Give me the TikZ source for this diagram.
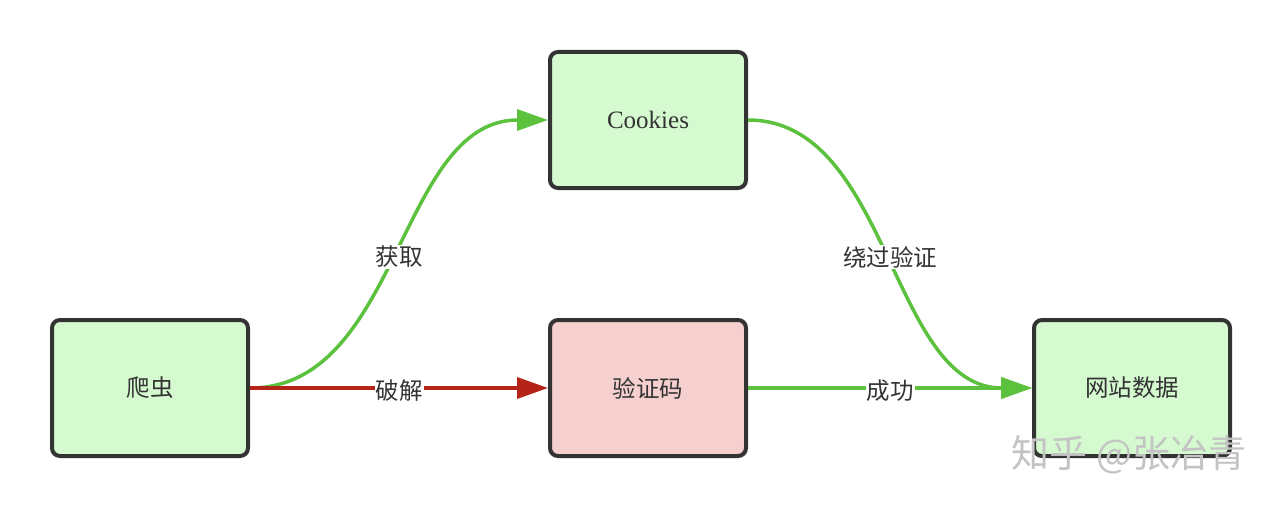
\documentclass[tikz,border=0pt]{standalone}
\usepackage{fontspec}
\setmainfont{Liberation Serif}
\newfontfamily\cjk{Noto Sans CJK SC}
\usetikzlibrary{arrows.meta}
\definecolor{bordergray}{HTML}{333333}
\definecolor{greenfill}{HTML}{D5FAD0}
\definecolor{pinkfill}{HTML}{F6CFCF}
\definecolor{greenline}{HTML}{5CC23E}
\definecolor{redline}{HTML}{B52419}
\definecolor{txt}{HTML}{333333}
\definecolor{wm}{HTML}{C4C4C4}
\begin{document}
\begin{tikzpicture}[x=1pt,y=-1pt,
  box/.style={draw=bordergray, line width=4pt, rounded corners=8pt,
    minimum width=196pt, minimum height=136pt, inner sep=0pt, text=txt},
  okbox/.style={box, fill=greenfill},
  badbox/.style={box, fill=pinkfill},
  cjkfont/.style={font=\cjk\fontsize{23.5}{23.5}\selectfont},
  conn/.style={line width=3.5pt, -{Triangle[length=31pt,width=21pt]}},
  goodconn/.style={conn, draw=greenline},
  badconn/.style={conn, draw=redline},
  lbl/.style={cjkfont, fill=white, inner sep=1pt, text=txt}]
\useasboundingbox (0,0) rectangle (1282,508);
\fill[white] (0,0) rectangle (1282,508);

\node[okbox, cjkfont] (spider) at (150,388) {爬虫};
\node[okbox, font=\fontsize{25}{25}\selectfont] (cookies) at (648,120) {Cookies};
\node[badbox, cjkfont] (captcha) at (648,388) {验证码};
\node[okbox, cjkfont] (site) at (1132,388) {网站数据};

\draw[goodconn] (spider.east) .. controls +(150,0) and +(-150,0) .. (cookies.west)
  node[lbl, pos=0.5, yshift=-3pt] {获取};
\draw[goodconn] (cookies.east) .. controls +(142,0) and +(-142,0) .. (site.west)
  node[lbl, pos=0.5, yshift=-3pt] {绕过验证};
\draw[badconn] (spider.east) -- (captcha.west)
  node[lbl, pos=0.5, yshift=-3pt] {破解};
\draw[goodconn] (captcha.east) -- (site.west)
  node[lbl, pos=0.5, yshift=-3pt] {成功};

\node[font=\cjk\fontsize{38}{38}\selectfont, text=wm, inner sep=0pt] (watermark) at (1129,455) {知乎 @张冶青};
\end{tikzpicture}
\end{document}
